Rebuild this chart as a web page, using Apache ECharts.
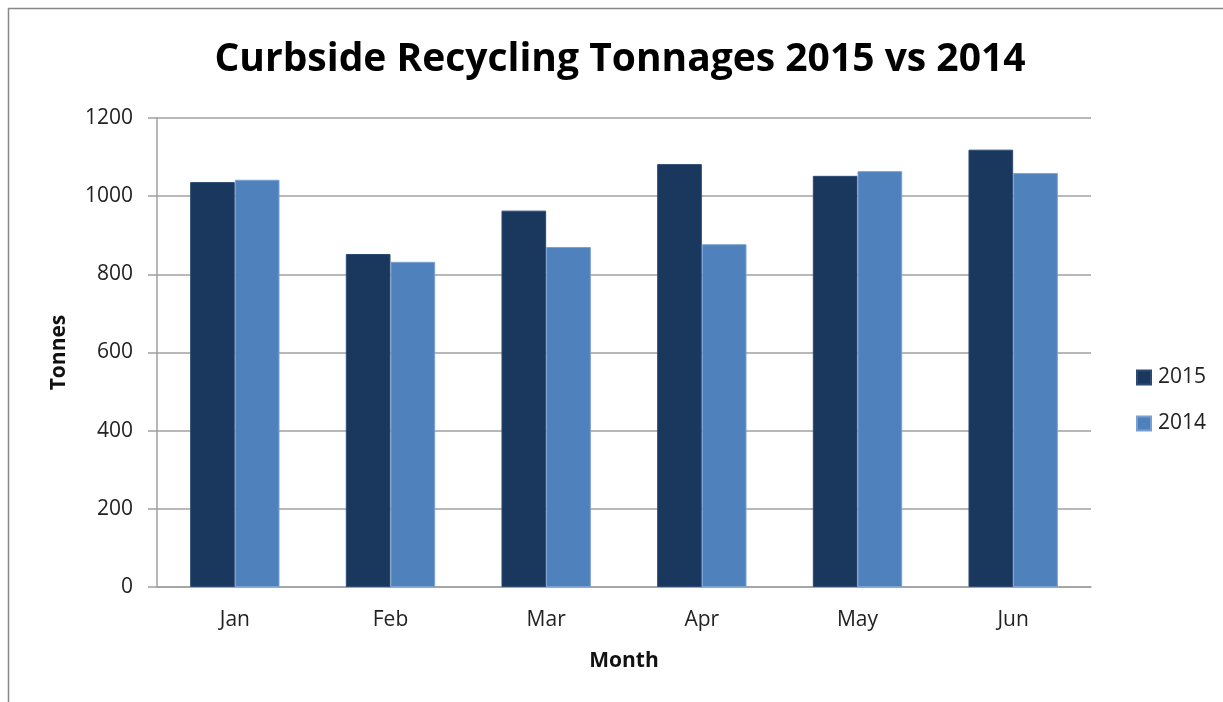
<!DOCTYPE html>
<html>
<head>
<meta charset="utf-8">
<script src="https://cdn.jsdelivr.net/npm/echarts@6/dist/echarts.min.js"></script>
<style>
html,body{margin:0;padding:0;background:#fff;}
#chart{width:1223px;height:702px;}
</style>
</head>
<body>
<div id="chart"></div>
<script>
const categories = ['Jan', 'Feb', 'Mar', 'Apr', 'May', 'Jun'];
const values2015 = [1036, 852, 963, 1082, 1052, 1119];
const values2014 = [1042, 832, 870, 877, 1064, 1059];
const yTicks = [0, 200, 400, 600, 800, 1000, 1200];

const chart = echarts.init(document.getElementById('chart'), null, {renderer: 'canvas'});
const fontFamily = '"Open Sans", "DejaVu Sans", sans-serif';
chart.setOption({
  animation: false,
  backgroundColor: '#fff',
  graphic: [{
    type: 'rect',
    shape: {x: 8.5, y: 8.5, width: 1400, height: 900},
    style: {fill: 'none', stroke: '#888', lineWidth: 1.5},
    silent: true
  }],
  title: {
    text: 'Curbside Recycling Tonnages 2015 vs 2014',
    left: 615, top: 35, textAlign: 'center',
    textStyle: {fontFamily: '"Open Sans", sans-serif', fontWeight: 'bold', fontSize: 39, color: '#000'}
  },
  legend: {
    orient: 'vertical',
    left: 1131, top: 362,
    itemWidth: 14, itemHeight: 14, itemGap: 25,
    icon: 'rect',
    textStyle: {fontFamily: fontFamily, fontSize: 21, color: '#222', padding: [0, 0, 0, 2]},
    data: ['2015', '2014']
  },
  grid: {left: 157, right: 132, top: 118, bottom: 115, containLabel: false},
  xAxis: {
    type: 'category',
    data: categories,
    name: 'Month',
    nameLocation: 'middle',
    nameGap: 64,
    nameTextStyle: {fontFamily: fontFamily, fontWeight: 'bold', fontSize: 21, color: '#111'},
    axisLine: {lineStyle: {color: '#a0a0a0', width: 1.5}},
    axisTick: {show: false},
    axisLabel: {fontFamily: fontFamily, fontSize: 21, color: '#222', margin: 23}
  },
  yAxis: {
    type: 'value',
    min: 0, max: 1200, interval: 200,
    name: 'Tonnes',
    nameLocation: 'middle',
    nameGap: 87,
    nameTextStyle: {fontFamily: fontFamily, fontWeight: 'bold', fontSize: 21, color: '#111'},
    axisLine: {show: true, lineStyle: {color: '#a0a0a0', width: 1.5}},
    axisTick: {show: true, length: 9, lineStyle: {color: '#a0a0a0', width: 1.5}},
    splitLine: {lineStyle: {color: '#a0a0a0', width: 1.5}},
    axisLabel: {fontFamily: fontFamily, fontSize: 21, color: '#222', margin: 24,
      formatter: v => yTicks.includes(v) ? String(v) : ''}
  },
  series: [
    {name: '2015', type: 'bar', data: values2015, barWidth: '28.7%', barGap: '0%',
      itemStyle: {color: '#1a375e', borderColor: '#2c4a72', borderWidth: 1}},
    {name: '2014', type: 'bar', data: values2014, barWidth: '28.7%', barGap: '0%',
      itemStyle: {color: '#4f81bd', borderColor: '#7aa0d0', borderWidth: 1}}
  ]
});
</script>
</body>
</html>
